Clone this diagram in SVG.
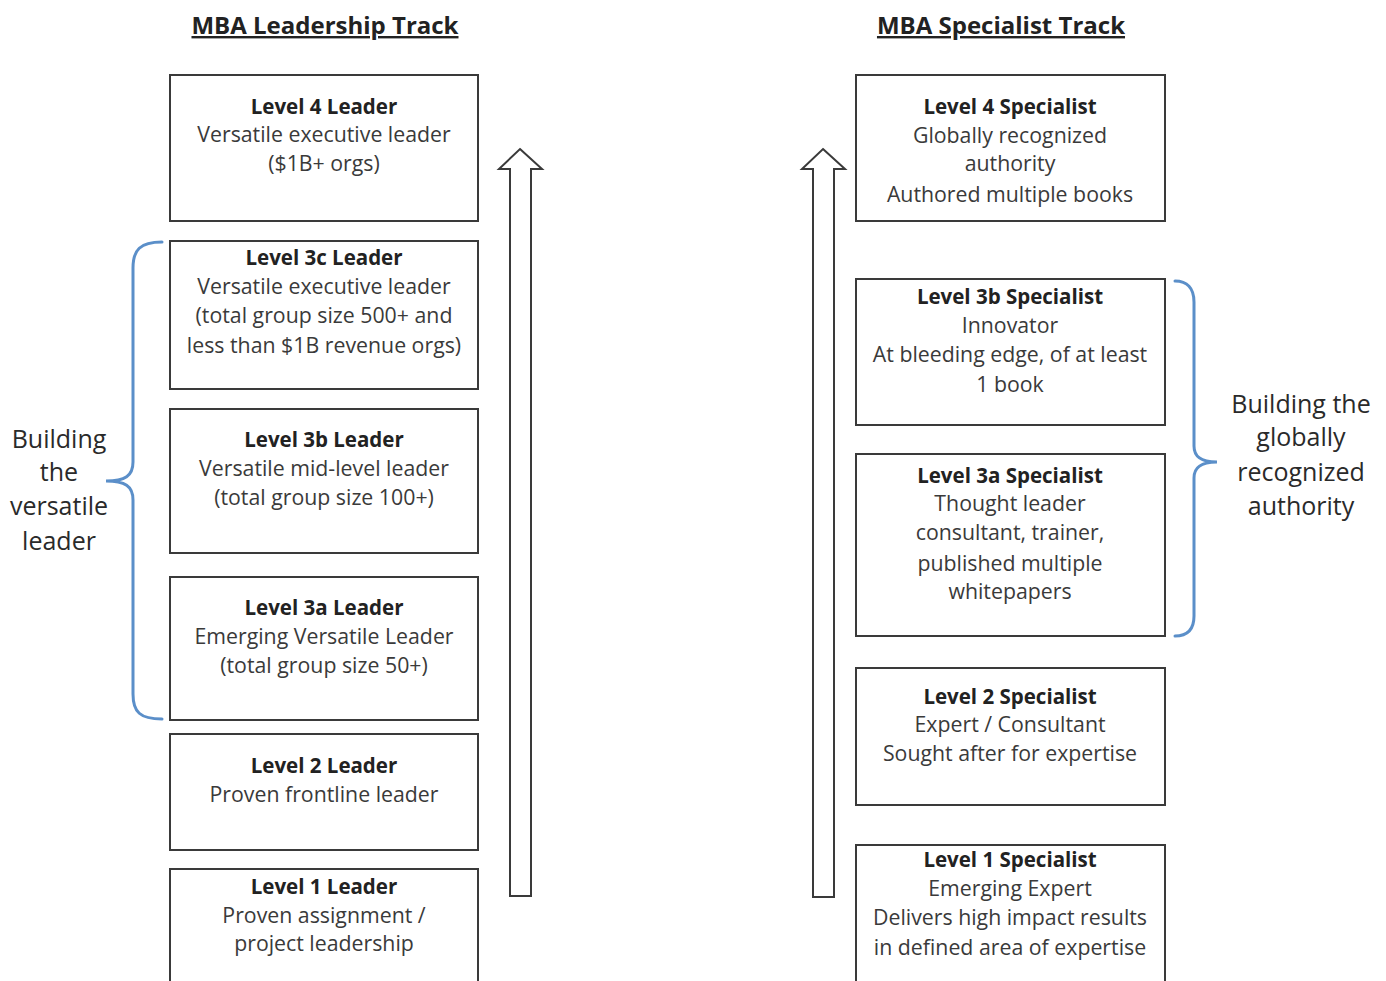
<svg xmlns="http://www.w3.org/2000/svg" width="1386" height="981" viewBox="0 0 1386 981">
<style>
.box{fill:#fff;stroke:#3a3a3a;stroke-width:2}
text{font-family:"Open Sans","Noto Sans","Liberation Sans",sans-serif;text-anchor:middle}
.t{font-size:20.5px;font-weight:bold;fill:#222}
.d{font-size:21.3px;fill:#3a3a3a}
.h{font-size:24px;font-weight:bold;fill:#222;text-decoration:underline}
.s{font-size:25px;fill:#2a2a2a}
.arrow{fill:#fff;stroke:#3a3a3a;stroke-width:2;stroke-linejoin:miter}
.brace{fill:none;stroke:#5b8fc9;stroke-width:3;stroke-linecap:round}
</style>
<rect width="1386" height="981" fill="#fff"/>
<g id="titles">
<text class="h" x="325" y="34">MBA Leadership Track</text>
<text class="h" x="1001" y="34">MBA Specialist Track</text>
</g>
<g id="connectors">
<path class="arrow" d="M520,149 L542,169 L531,169 L531,896 L510,896 L510,169 L499,169 Z"/>
<path class="arrow" d="M823,149 L845,169 L834,169 L834,897 L813,897 L813,169 L802,169 Z"/>
<path class="brace" d="M162,242 C140,242 133,250 133,268 L133,462 C133,476 125,481 106,481 C125,481 133,486 133,500 L133,694 C133,712 140,719 162,719"/>
<path class="brace" d="M1175,281 C1187,281 1194,288 1194,302 L1194,446 C1194,456 1200,462 1217,462 C1200,462 1194,468 1194,478 L1194,616 C1194,630 1187,636 1175,636"/>
</g>
<g id="label-left">
<text class="s" x="59" y="448">Building</text>
<text class="s" x="59" y="481">the</text>
<text class="s" x="59" y="515">versatile</text>
<text class="s" x="59" y="550">leader</text>
</g>
<g id="label-right">
<text class="s" x="1301" y="413">Building the</text>
<text class="s" x="1301" y="446">globally</text>
<text class="s" x="1301" y="481">recognized</text>
<text class="s" x="1301" y="515">authority</text>
</g>
<g id="leader4">
<rect class="box" x="170" y="75" width="308" height="146"/>
<text class="t" x="324" y="114">Level 4 Leader</text>
<text class="d" x="324" y="142">Versatile executive leader</text>
<text class="d" x="324" y="171">($1B+ orgs)</text>
</g>
<g id="leader3c">
<rect class="box" x="170" y="241" width="308" height="148"/>
<text class="t" x="324" y="265">Level 3c Leader</text>
<text class="d" x="324" y="294">Versatile executive leader</text>
<text class="d" x="324" y="323">(total group size 500+ and</text>
<text class="d" x="324" y="353">less than $1B revenue orgs)</text>
</g>
<g id="leader3b">
<rect class="box" x="170" y="409" width="308" height="144"/>
<text class="t" x="324" y="447">Level 3b Leader</text>
<text class="d" x="324" y="476">Versatile mid-level leader</text>
<text class="d" x="324" y="505">(total group size 100+)</text>
</g>
<g id="leader3a">
<rect class="box" x="170" y="577" width="308" height="143"/>
<text class="t" x="324" y="615">Level 3a Leader</text>
<text class="d" x="324" y="644">Emerging Versatile Leader</text>
<text class="d" x="324" y="673">(total group size 50+)</text>
</g>
<g id="leader2">
<rect class="box" x="170" y="734" width="308" height="116"/>
<text class="t" x="324" y="773">Level 2 Leader</text>
<text class="d" x="324" y="802">Proven frontline leader</text>
</g>
<g id="leader1">
<rect class="box" x="170" y="869" width="308" height="130"/>
<text class="t" x="324" y="894">Level 1 Leader</text>
<text class="d" x="324" y="923">Proven assignment /</text>
<text class="d" x="324" y="951">project leadership</text>
</g>
<g id="spec4">
<rect class="box" x="856" y="75" width="309" height="146"/>
<text class="t" x="1010" y="114">Level 4 Specialist</text>
<text class="d" x="1010" y="143">Globally recognized</text>
<text class="d" x="1010" y="171">authority</text>
<text class="d" x="1010" y="202">Authored multiple books</text>
</g>
<g id="spec3b">
<rect class="box" x="856" y="279" width="309" height="146"/>
<text class="t" x="1010" y="304">Level 3b Specialist</text>
<text class="d" x="1010" y="333">Innovator</text>
<text class="d" x="1010" y="362">At bleeding edge, of at least</text>
<text class="d" x="1010" y="392">1 book</text>
</g>
<g id="spec3a">
<rect class="box" x="856" y="454" width="309" height="182"/>
<text class="t" x="1010" y="483">Level 3a Specialist</text>
<text class="d" x="1010" y="511">Thought leader</text>
<text class="d" x="1010" y="540">consultant, trainer,</text>
<text class="d" x="1010" y="571">published multiple</text>
<text class="d" x="1010" y="599">whitepapers</text>
</g>
<g id="spec2">
<rect class="box" x="856" y="668" width="309" height="137"/>
<text class="t" x="1010" y="704">Level 2 Specialist</text>
<text class="d" x="1010" y="732">Expert / Consultant</text>
<text class="d" x="1010" y="761">Sought after for expertise</text>
</g>
<g id="spec1">
<rect class="box" x="856" y="845" width="309" height="150"/>
<text class="t" x="1010" y="867">Level 1 Specialist</text>
<text class="d" x="1010" y="896">Emerging Expert</text>
<text class="d" x="1010" y="925">Delivers high impact results</text>
<text class="d" x="1010" y="955">in defined area of expertise</text>
</g>
</svg>
